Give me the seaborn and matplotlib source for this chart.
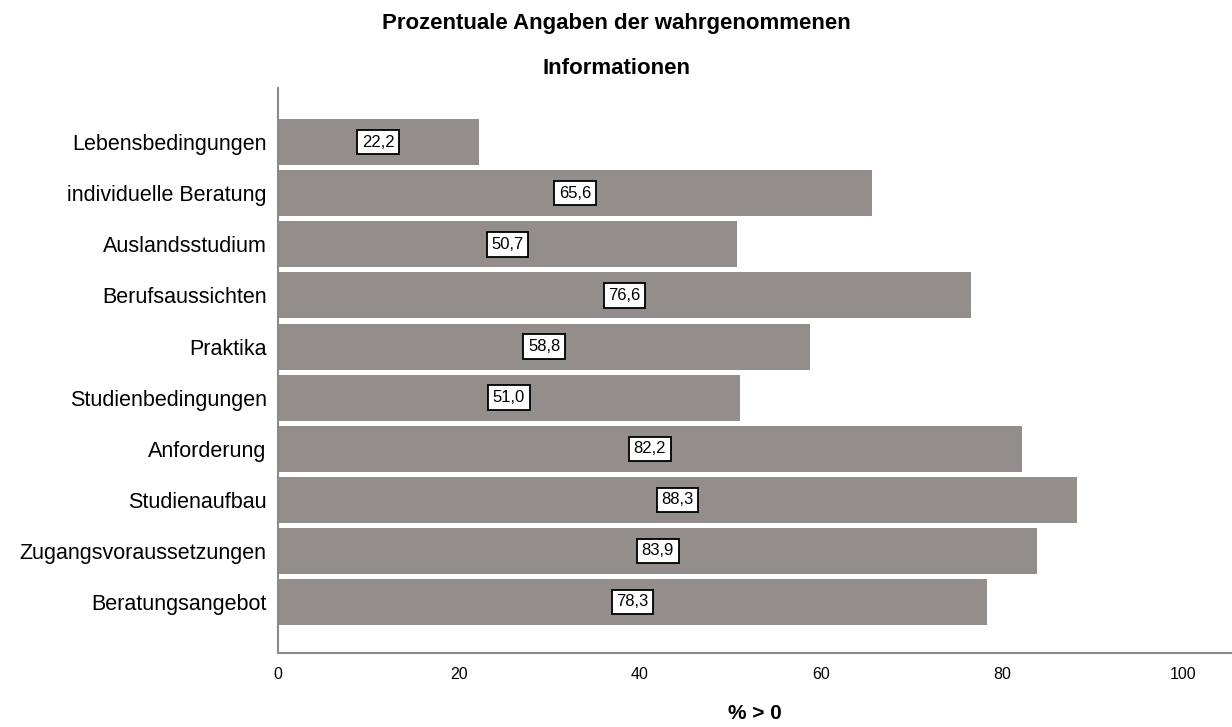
import matplotlib
matplotlib.use("Agg")
import matplotlib.pyplot as plt
import seaborn as sns
import pandas as pd

categories = ["Lebensbedingungen", "individuelle Beratung", "Auslandsstudium",
              "Berufsaussichten", "Praktika", "Studienbedingungen", "Anforderung",
              "Studienaufbau", "Zugangsvoraussetzungen", "Beratungsangebot"]
values = [22.2, 65.6, 50.7, 76.6, 58.8, 51.0, 82.2, 88.3, 83.9, 78.3]
value_labels = ["22,2", "65,6", "50,7", "76,6", "58,8", "51,0", "82,2", "88,3", "83,9", "78,3"]
x_ticks = [0, 20, 40, 60, 80, 100]

title_line1 = "Prozentuale Angaben der wahrgenommenen"
title_line2 = "Informationen"
x_label = "% > 0"

sns.set_theme(style="white")
plt.rcParams['font.family'] = ['Liberation Sans', 'DejaVu Sans']
plt.rcParams['text.color'] = 'black'
plt.rcParams['axes.labelcolor'] = 'black'
plt.rcParams['xtick.color'] = 'black'
plt.rcParams['ytick.color'] = 'black'

df = pd.DataFrame({"cat": categories, "val": values})

fig = plt.figure(figsize=(12.32, 7.27), dpi=100)
ax = fig.add_axes([0.2256, 0.1018, 0.7744, 0.777])

sns.barplot(data=df, y="cat", x="val", orient="h", color="#938e8c",
            saturation=1, width=0.9, edgecolor="none", linewidth=0, ax=ax)

for p, lab in zip(ax.patches, value_labels):
    w = p.get_width()
    cy = p.get_y() + p.get_height() / 2
    ax.text(w / 2, cy, lab, ha="center", va="center", fontsize=12, color="black",
            bbox=dict(boxstyle="square,pad=0.28", facecolor="white",
                      edgecolor="black", linewidth=1.3))

ax.set_xlim(0, 105.4)
ax.set_ylim(10.0, -1.06)
ax.set_xticks(x_ticks)
ax.set_xticklabels([str(t) for t in x_ticks], fontsize=11.5)
ax.tick_params(axis="y", labelsize=15.5, length=0, pad=8)
ax.tick_params(axis="x", length=0, pad=10)
ax.set_ylabel("")
ax.set_xlabel(x_label, fontsize=15, fontweight="bold", labelpad=16)

for s in ["top", "right"]:
    ax.spines[s].set_visible(False)
for s in ["left", "bottom"]:
    ax.spines[s].set_color("#8a8a8a")
    ax.spines[s].set_linewidth(1.5)

fig.text(0.5, 1 - 23 / 727, title_line1, ha="center", va="center",
         fontsize=16, fontweight="bold")
fig.text(0.5, 1 - 69 / 727, title_line2, ha="center", va="center",
         fontsize=16, fontweight="bold")

fig.savefig("out.png", dpi=100, facecolor="white")
